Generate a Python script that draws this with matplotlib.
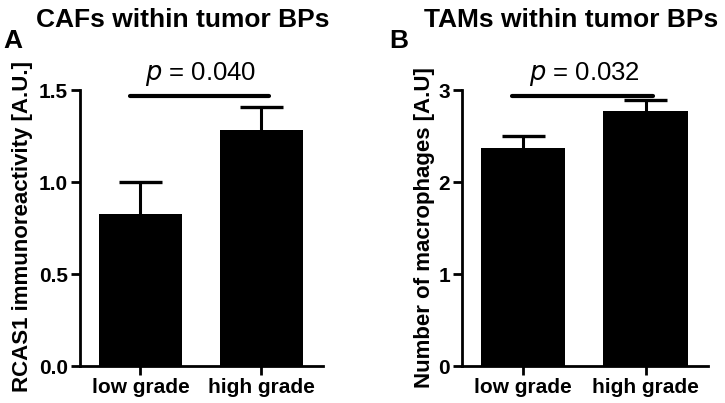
import matplotlib
matplotlib.use("Agg")
import matplotlib.pyplot as plt

plt.rcParams['font.family'] = ['Liberation Sans', 'DejaVu Sans']

groups = ["low grade", "high grade"]

# panel A: CAFs
caf_means = [0.826, 1.283]
caf_sem = [0.174, 0.127]
caf_p = "0.040"

# panel B: TAMs
tam_means = [2.37, 2.77]
tam_sem = [0.13, 0.12]
tam_p = "0.032"

fig = plt.figure(figsize=(7.25, 4.03), dpi=100)


def panel(rect, means, sem, ymax, ticks, ticklabels, sig_y, p_txt, p_y):
    ax = fig.add_axes(rect)
    x = list(range(len(groups)))
    ax.bar(x, means, width=0.69, color="black", zorder=2)
    # upper error bars only, cap half the bar width
    tops = [m + s for m, s in zip(means, sem)]
    ax.vlines(x, means, tops, color="black", lw=2.2, zorder=1)
    ax.hlines(tops, [i - 0.175 for i in x], [i + 0.175 for i in x],
              color="black", lw=2.4, zorder=1)
    ax.plot([-0.09, 1.06], [sig_y, sig_y], color="black", lw=3,
            solid_capstyle="round", clip_on=False)
    ax.text(0.5, p_y, "$\\it{p}$ = " + p_txt, ha="center", va="baseline",
            fontsize=18.5)
    ax.set_xlim(-0.5, 1.51)
    ax.set_ylim(0, ymax)
    ax.set_xticks(x)
    ax.set_xticklabels(groups, fontsize=15, fontweight="bold")
    ax.set_yticks(ticks)
    ax.set_yticklabels(ticklabels, fontsize=15, fontweight="bold")
    ax.spines["top"].set_visible(False)
    ax.spines["right"].set_visible(False)
    ax.spines["left"].set_bounds(0, ticks[-1])
    for s in ("left", "bottom"):
        ax.spines[s].set_linewidth(2)
    ax.tick_params(axis="both", width=2, length=6.5, pad=2)
    return ax


panel([80 / 725, 37 / 403, 243 / 725, 294.4 / 403], caf_means, caf_sem, 1.6,
      [0, 0.5, 1.0, 1.5], ["0.0", "0.5", "1.0", "1.5"], 1.467, caf_p, 1.554)
panel([462 / 725, 37 / 403, 246 / 725, 294.4 / 403], tam_means, tam_sem, 3.2,
      [0, 1, 2, 3], ["0", "1", "2", "3"], 2.935, tam_p, 3.108)

fig.text(183 / 725, 1 - 27 / 403, "CAFs within tumor BPs", ha="center",
         va="baseline", fontsize=19, fontweight="bold")
fig.text(571 / 725, 1 - 27 / 403, "TAMs within tumor BPs", ha="center",
         va="baseline", fontsize=19, fontweight="bold")
fig.text(3 / 725, 1 - 48 / 403, "A", ha="left", va="baseline", fontsize=19,
         fontweight="bold")
fig.text(389 / 725, 1 - 48 / 403, "B", ha="left", va="baseline", fontsize=19,
         fontweight="bold")
fig.text(23 / 725, 1 - 226 / 403, "RCAS1 immunoreactivity [A.U.]", rotation=90,
         ha="center", va="center", fontsize=16, fontweight="bold")
fig.text(425 / 725, 1 - 228 / 403, "Number of macrophages [A.U]", rotation=90,
         ha="center", va="center", fontsize=16, fontweight="bold")

fig.savefig("out.png", dpi=100)
